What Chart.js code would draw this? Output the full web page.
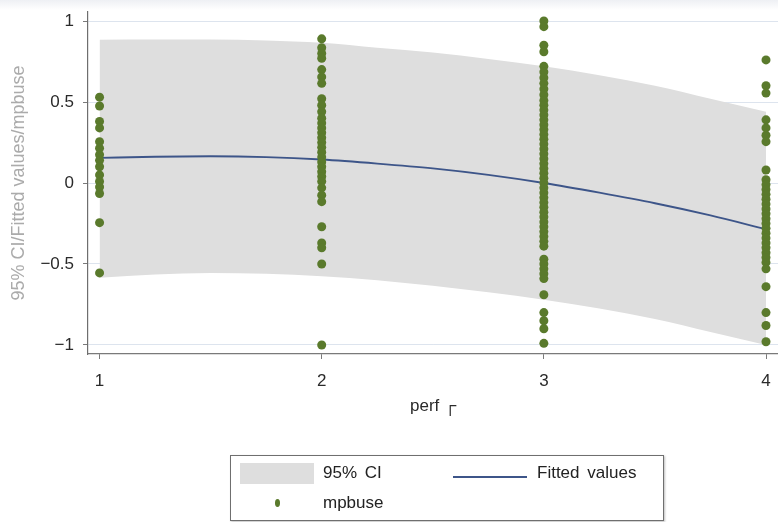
<!DOCTYPE html>
<html>
<head>
<meta charset="utf-8">
<script src="https://cdn.jsdelivr.net/npm/chart.js@4.4.1/dist/chart.umd.min.js"></script>
<style>
  html, body { margin: 0; padding: 0; background: #ffffff; }
  #wrap { position: relative; width: 778px; height: 522px; overflow: hidden; font-family: "Liberation Sans", Arial, sans-serif; }
  #topstrip { position: absolute; left: 0; top: 0; width: 778px; height: 10px; background: linear-gradient(#eef0f4, #ffffff); }
  canvas { position: absolute; left: 0; top: 0; }
  #legend { position: absolute; left: 230px; top: 455px; width: 432px; height: 64px; border: 1px solid #6f6f6f; box-shadow: 1px 1px 2px rgba(0,0,0,0.25); background: #fff; }
  .lg { position: absolute; font-size: 17px; color: #222; word-spacing: 3px; line-height: 20px; }
</style>
</head>
<body>
<div id="wrap">
  <div id="topstrip"></div>
  <canvas id="c" width="778" height="522"></canvas>
  <div id="legend">
    <div style="position:absolute;left:9px;top:7px;width:74px;height:21px;background:#dedede;"></div>
    <div class="lg" style="left:92px;top:7px;">95% CI</div>
    <div style="position:absolute;left:222px;top:20px;width:74px;height:2px;background:#3d5589;"></div>
    <div class="lg" style="left:306px;top:7px;">Fitted values</div>
    <div style="position:absolute;left:44px;top:43px;width:5px;height:8px;border-radius:50%;background:#5a7a2c;"></div>
    <div class="lg" style="left:92px;top:37px;">mpbuse</div>
  </div>
</div>
<script>
// Axis ticks
const perfTicks = [1, 2, 3, 4];
const valueTicks = [-1, -0.5, 0, 0.5, 1];

// Quadratic fit and its 95% confidence band, sampled along perf
const fitX    = [1, 1.25, 1.5, 1.75, 2, 2.25, 2.5, 2.75, 3, 3.25, 3.5, 3.75, 4];
const fitted  = [0.155, 0.162, 0.165, 0.16, 0.145, 0.12, 0.09, 0.05, 0.0, -0.06, -0.125, -0.2, -0.285];
const ciUpper = [0.885, 0.886, 0.886, 0.88, 0.866, 0.835, 0.805, 0.765, 0.72, 0.665, 0.60, 0.52, 0.44];
const ciLower = [-0.585, -0.565, -0.555, -0.56, -0.575, -0.60, -0.635, -0.675, -0.72, -0.775, -0.84, -0.92, -1.0];

// Observed mpbuse values for each perf level
const mpbusePerf1 = [0.53, 0.475, 0.38, 0.34, 0.255, 0.215, 0.175, 0.14, 0.10, 0.05, 0.01, -0.025, -0.065, -0.245, -0.555];
const mpbusePerf2 = [0.89, 0.835, 0.80, 0.77, 0.70, 0.655, 0.615, 0.52, 0.48, 0.44, 0.40, 0.37, 0.34, 0.31, 0.28, 0.25,
                     0.22, 0.19, 0.16, 0.13, 0.10, 0.07, 0.04, 0.01, -0.03, -0.075, -0.115, -0.27, -0.37, -0.40, -0.50, -1.0];
const mpbusePerf3 = [1.0, 0.965, 0.85, 0.81, 0.72, 0.685, 0.65, 0.615, 0.58, 0.545, 0.51, 0.48, 0.45, 0.42, 0.39, 0.36,
                     0.33, 0.30, 0.27, 0.24, 0.21, 0.18, 0.15, 0.12, 0.09, 0.06, 0.03, 0.0, -0.03, -0.06, -0.09, -0.12,
                     -0.15, -0.18, -0.21, -0.24, -0.27, -0.30, -0.33, -0.36, -0.39, -0.47, -0.50, -0.53, -0.56, -0.59,
                     -0.69, -0.80, -0.85, -0.90, -0.99];
const mpbusePerf4 = [0.76, 0.60, 0.555, 0.39, 0.34, 0.295, 0.255, 0.08, 0.02, -0.01, -0.04, -0.07, -0.10, -0.13, -0.16,
                     -0.19, -0.22, -0.25, -0.28, -0.31, -0.34, -0.37, -0.40, -0.43, -0.46, -0.49, -0.53, -0.64, -0.80,
                     -0.88, -0.98];

const toXY = (xs, ys) => xs.map((x, i) => ({ x: x, y: ys[i] }));
const scatterPts = []
  .concat(mpbusePerf1.map(v => ({ x: 1, y: v })))
  .concat(mpbusePerf2.map(v => ({ x: 2, y: v })))
  .concat(mpbusePerf3.map(v => ({ x: 3, y: v })))
  .concat(mpbusePerf4.map(v => ({ x: 4, y: v })));

const FONT = "'Liberation Sans', Arial, sans-serif";

// Let the plot region run all the way to the right edge of the canvas
const fullWidthPlot = {
  id: 'fullWidthPlot',
  afterLayout(chart) {
    const xs = chart.scales.x;
    const r = chart.width;
    chart.chartArea.right = r;
    chart.chartArea.width = r - chart.chartArea.left;
    xs.right = r;
    xs.width = r - xs.left;
    xs.configure();
  }
};

new Chart(document.getElementById('c'), {
  type: 'line',
  plugins: [fullWidthPlot],
  data: {
    datasets: [
      {
        label: 'mpbuse', type: 'scatter', data: scatterPts, order: 0,
        pointRadius: 4.5, pointHoverRadius: 4.5, pointBackgroundColor: '#5a7a2c',
        pointBorderWidth: 0, showLine: false
      },
      {
        label: 'Fitted values', data: toXY(fitX, fitted), order: 1,
        borderColor: '#3d5589', borderWidth: 1.8, pointRadius: 0, fill: false,
        cubicInterpolationMode: 'monotone'
      },
      {
        label: '95% CI', data: toXY(fitX, ciUpper), order: 2,
        borderWidth: 0, borderColor: 'rgba(0,0,0,0)', pointRadius: 0,
        backgroundColor: '#dedede', fill: '+1', cubicInterpolationMode: 'monotone'
      },
      {
        label: 'ci-lower', data: toXY(fitX, ciLower), order: 3,
        borderWidth: 0, borderColor: 'rgba(0,0,0,0)', pointRadius: 0, fill: false,
        cubicInterpolationMode: 'monotone'
      }
    ]
  },
  options: {
    responsive: false,
    animation: false,
    events: [],
    layout: { padding: { top: 12, left: 0, right: 0, bottom: 0 } },
    plugins: { legend: { display: false }, tooltip: { enabled: false } },
    scales: {
      x: {
        type: 'linear', min: 0.948, max: 4.054,
        afterBuildTicks: s => { s.ticks = perfTicks.map(v => ({ value: v })); },
        afterFit: s => { s.height = 168; s.paddingLeft = 0; s.paddingRight = 0; },
        grid: { drawOnChartArea: false, drawTicks: true, tickLength: 5, tickColor: '#7a7a7a', tickWidth: 1 },
        border: { display: true, color: '#7a7a7a', width: 1.2 },
        ticks: { color: '#2a2a2a', font: { family: FONT, size: 17 }, padding: 12, maxRotation: 0,
                 callback: v => String(v) },
        title: { display: true, text: 'perf \u250C', color: '#2a2a2a',
                 font: { family: FONT, size: 17 }, padding: { top: 0, bottom: 105 } }
      },
      y: {
        type: 'linear', min: -1.0556, max: 1.0556,
        afterBuildTicks: s => { s.ticks = valueTicks.map(v => ({ value: v })); },
        afterFit: s => { s.width = 88; s.paddingTop = 0; s.paddingBottom = 0; },
        grid: { drawOnChartArea: true, color: '#dde4ee', lineWidth: 1, drawTicks: true,
                tickLength: 5, tickColor: '#7a7a7a' },
        border: { display: true, color: '#6e6e6e', width: 1.2 },
        ticks: { color: '#2a2a2a', font: { family: FONT, size: 17 }, padding: 9,
                 callback: v => (v < 0 ? '\u2212' + String(-v) : String(v)) },
        title: { display: true, text: '95% CI/Fitted values/mpbuse', color: '#ababab',
                 font: { family: FONT, size: 18 }, padding: { top: 8, bottom: 0 } }
      }
    }
  }
});
</script>
</body>
</html>
